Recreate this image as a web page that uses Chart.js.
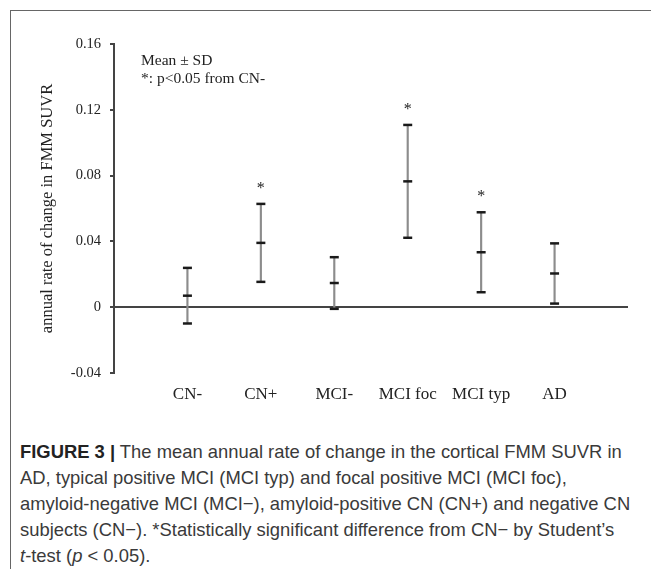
<!DOCTYPE html>
<html>
<head>
<meta charset="utf-8">
<script src="https://cdn.jsdelivr.net/npm/chart.js@4.4.1/dist/chart.umd.min.js"></script>
<style>
    body { margin: 0; background: #fff; width: 651px; height: 569px; overflow: hidden; position: relative; }
    #frame { position: absolute; left: 10px; top: 10px; width: 700px; height: 600px;
             border-left: 1.5px solid #666; border-top: 1.5px solid #666; }
    #wrap { position: absolute; left: 0; top: 0; width: 651px; height: 420px; }
    #legenda, #legenda2 { position: absolute; left: 141px; font-family: "Liberation Serif", serif;
               font-size: 15.5px; line-height: 17px; color: #222; white-space: nowrap; }
    #legenda { top: 51px; }
    #legenda2 { top: 69px; }
    #caption { position: absolute; left: 20px; top: 439px; font-family: "Liberation Sans", Arial, sans-serif;
               font-size: 18.4px; line-height: 26px; color: #3a3a3a; white-space: nowrap; }
    #caption b { color: #222; }
</style>
</head>
<body>
<div id="frame"></div>
<div id="wrap"><canvas id="graficoTaxa"></canvas></div>
<div id="legenda">Mean ± SD</div>
<div id="legenda2">*: p&lt;0.05 from CN-</div>
<div id="caption">
    <b>FIGURE 3 |</b> The mean annual rate of change in the cortical FMM SUVR in<br>
    AD, typical positive MCI (MCI typ) and focal positive MCI (MCI foc),<br>
    amyloid-negative MCI (MCI&minus;), amyloid-positive CN (CN+) and negative CN<br>
    subjects (CN&minus;). *Statistically significant difference from CN&minus; by Student’s<br>
    <i>t</i>-test (<i>p</i> &lt; 0.05).
</div>
<script>
// grupos e valores (taxa anual de mudança no SUVR)
const grupos = ['CN-', 'CN+', 'MCI-', 'MCI foc', 'MCI typ', 'AD'];
const medias = [0.0070, 0.0391, 0.0147, 0.0765, 0.0334, 0.0205];
const desvios = [0.0169, 0.0237, 0.0157, 0.0343, 0.0243, 0.0183];
const significativo = [false, true, false, true, true, false];
const ticksY = [-0.04, 0, 0.04, 0.08, 0.12, 0.16];

const posicoes = grupos.map((g, i) => i + 1);
const altos = medias.map((m, i) => m + desvios[i]);
const baixos = medias.map((m, i) => m - desvios[i]);

const fonteSerif = "'Liberation Serif', 'Times New Roman', serif";

// desenha os asteriscos acima das barras de erro
const asteriscos = {
    id: 'asteriscos',
    afterDatasetsDraw(chart) {
        const ctx = chart.ctx;
        const x = chart.scales.x;
        const y = chart.scales.y;
        ctx.save();
        ctx.fillStyle = '#222';
        ctx.font = '16px ' + fonteSerif;
        ctx.textAlign = 'center';
        ctx.textBaseline = 'alphabetic';
        significativo.forEach((s, i) => {
            if (!s) return;
            const px = x.getPixelForValue(posicoes[i]);
            const py = y.getPixelForValue(altos[i]);
            ctx.fillText('*', px, py - 11);
        });
        ctx.restore();
    }
};

const pontos = arr => arr.map((v, i) => ({ x: posicoes[i], y: v }));

const marcador = arr => ({
    type: 'line',
    data: pontos(arr),
    showLine: false,
    pointStyle: 'line',
    pointRadius: 4.5,
    pointBorderWidth: 2.5,
    pointBorderColor: '#1a1a1a',
    order: 1
});

document.addEventListener("DOMContentLoaded", () => {
    const ctx = document.getElementById('graficoTaxa').getContext('2d');
    window.graficoTaxa = new Chart(ctx, {
        type: 'bar',
        data: {
            datasets: [
                {
                    type: 'bar',
                    data: posicoes.map((p, i) => ({ x: p, y: [baixos[i], altos[i]] })),
                    backgroundColor: '#8c8c8c',
                    borderWidth: 0,
                    barThickness: 1.5,
                    order: 2
                },
                marcador(altos),
                marcador(medias),
                marcador(baixos)
            ]
        },
        options: {
            responsive: true,
            maintainAspectRatio: false,
            animation: false,
            layout: { padding: { left: 0, right: 23, top: 44, bottom: 0 } },
            plugins: {
                legend: { display: false },
                tooltip: { enabled: false }
            },
            scales: {
                x: {
                    type: 'linear',
                    offset: false,
                    min: 0,
                    max: 7,
                    afterFit: s => { s.height = 47; },
                    afterBuildTicks: s => { s.ticks = [0, 1, 2, 3, 4, 5, 6, 7].map(v => ({ value: v })); },
                    grid: { display: false, drawTicks: false, tickLength: 0, offset: false },
                    border: { display: false },
                    ticks: {
                        autoSkip: false,
                        maxRotation: 0,
                        padding: 11,
                        color: '#222',
                        font: { family: fonteSerif, size: 17 },
                        callback: v => grupos[v - 1] || ''
                    }
                },
                y: {
                    min: -0.04,
                    max: 0.16,
                    afterFit: s => { s.width = 114; },
                    afterBuildTicks: s => { s.ticks = ticksY.map(v => ({ value: v })); },
                    grid: {
                        color: c => (c.tick && c.tick.value === 0) ? '#444' : 'rgba(0,0,0,0)',
                        lineWidth: 2,
                        drawTicks: true,
                        tickLength: 4,
                        tickColor: '#444'
                    },
                    border: { display: true, color: '#444', width: 2 },
                    ticks: {
                        padding: 9,
                        color: '#222',
                        font: { family: fonteSerif, size: 14.5 },
                        callback: v => String(Math.round(v * 100) / 100)
                    },
                    title: {
                        display: true,
                        text: 'annual rate of change in FMM SUVR',
                        color: '#222',
                        font: { family: fonteSerif, size: 16.5 },
                        padding: { top: 38, bottom: 0 }
                    }
                }
            }
        },
        plugins: [asteriscos]
    });
});
</script>
</body>
</html>
